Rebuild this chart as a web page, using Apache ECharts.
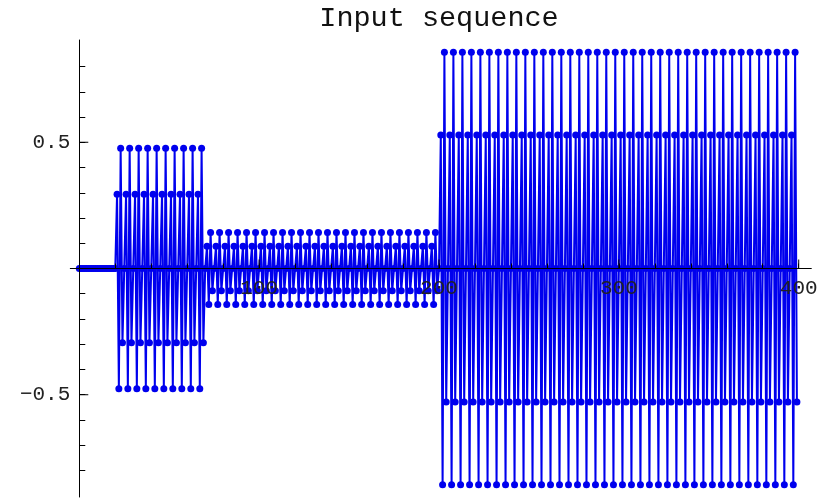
<!DOCTYPE html>
<html>
<head>
<meta charset="utf-8">
<script src="https://cdn.jsdelivr.net/npm/echarts@6/dist/echarts.min.js"></script>
<style>
  html, body { margin: 0; padding: 0; background: #fff; }
  #chart { width: 823px; height: 498px; }
</style>
</head>
<body>
<div id="chart"></div>
<script>
// samples n = 0..19
const leadIn = [0,0,0,0,0,0,0,0,0,0,0,0,0,0,0,0,0,0,0,0];
// samples n = 20..69
const burstA = [
  0,0.294,-0.476,0.476,-0.294, 0,0.294,-0.476,0.476,-0.294,
  0,0.294,-0.476,0.476,-0.294, 0,0.294,-0.476,0.476,-0.294,
  0,0.294,-0.476,0.476,-0.294, 0,0.294,-0.476,0.476,-0.294,
  0,0.294,-0.476,0.476,-0.294, 0,0.294,-0.476,0.476,-0.294,
  0,0.294,-0.476,0.476,-0.294, 0,0.294,-0.476,0.476,-0.294
];
// samples n = 70..199
const burstB = [
  0,0.088,-0.143,0.143,-0.088, 0,0.088,-0.143,0.143,-0.088,
  0,0.088,-0.143,0.143,-0.088, 0,0.088,-0.143,0.143,-0.088,
  0,0.088,-0.143,0.143,-0.088, 0,0.088,-0.143,0.143,-0.088,
  0,0.088,-0.143,0.143,-0.088, 0,0.088,-0.143,0.143,-0.088,
  0,0.088,-0.143,0.143,-0.088, 0,0.088,-0.143,0.143,-0.088,
  0,0.088,-0.143,0.143,-0.088, 0,0.088,-0.143,0.143,-0.088,
  0,0.088,-0.143,0.143,-0.088, 0,0.088,-0.143,0.143,-0.088,
  0,0.088,-0.143,0.143,-0.088, 0,0.088,-0.143,0.143,-0.088,
  0,0.088,-0.143,0.143,-0.088, 0,0.088,-0.143,0.143,-0.088,
  0,0.088,-0.143,0.143,-0.088, 0,0.088,-0.143,0.143,-0.088,
  0,0.088,-0.143,0.143,-0.088, 0,0.088,-0.143,0.143,-0.088,
  0,0.088,-0.143,0.143,-0.088, 0,0.088,-0.143,0.143,-0.088,
  0,0.088,-0.143,0.143,-0.088, 0,0.088,-0.143,0.143,-0.088
];
// samples n = 200..399
const burstC = [
  0,0.529,-0.856,0.856,-0.529, 0,0.529,-0.856,0.856,-0.529,
  0,0.529,-0.856,0.856,-0.529, 0,0.529,-0.856,0.856,-0.529,
  0,0.529,-0.856,0.856,-0.529, 0,0.529,-0.856,0.856,-0.529,
  0,0.529,-0.856,0.856,-0.529, 0,0.529,-0.856,0.856,-0.529,
  0,0.529,-0.856,0.856,-0.529, 0,0.529,-0.856,0.856,-0.529,
  0,0.529,-0.856,0.856,-0.529, 0,0.529,-0.856,0.856,-0.529,
  0,0.529,-0.856,0.856,-0.529, 0,0.529,-0.856,0.856,-0.529,
  0,0.529,-0.856,0.856,-0.529, 0,0.529,-0.856,0.856,-0.529,
  0,0.529,-0.856,0.856,-0.529, 0,0.529,-0.856,0.856,-0.529,
  0,0.529,-0.856,0.856,-0.529, 0,0.529,-0.856,0.856,-0.529,
  0,0.529,-0.856,0.856,-0.529, 0,0.529,-0.856,0.856,-0.529,
  0,0.529,-0.856,0.856,-0.529, 0,0.529,-0.856,0.856,-0.529,
  0,0.529,-0.856,0.856,-0.529, 0,0.529,-0.856,0.856,-0.529,
  0,0.529,-0.856,0.856,-0.529, 0,0.529,-0.856,0.856,-0.529,
  0,0.529,-0.856,0.856,-0.529, 0,0.529,-0.856,0.856,-0.529,
  0,0.529,-0.856,0.856,-0.529, 0,0.529,-0.856,0.856,-0.529,
  0,0.529,-0.856,0.856,-0.529, 0,0.529,-0.856,0.856,-0.529,
  0,0.529,-0.856,0.856,-0.529, 0,0.529,-0.856,0.856,-0.529,
  0,0.529,-0.856,0.856,-0.529, 0,0.529,-0.856,0.856,-0.529,
  0,0.529,-0.856,0.856,-0.529, 0,0.529,-0.856,0.856,-0.529
];

const xMinorTicks = [20,40,60,80,100,120,140,160,180,200,220,240,260,280,300,320,340,360,380,400];
const xMajorTicks = [100,200,300,400];
const yMinorTicks = [-0.8,-0.7,-0.6,-0.5,-0.4,-0.3,-0.2,-0.1,0.1,0.2,0.3,0.4,0.5,0.6,0.7,0.8];
const yMajorTicks = [-0.5,0.5];

const values = leadIn.concat(burstA, burstB, burstC);
const points = values.map((v, i) => [i, v]);

const blue = '#0000ee';
const tickFont = { fontFamily: 'Liberation Mono', fontSize: 21, color: '#222' };

// plot box: the axes cross at (0, 0) inside it
const gridLeft = 70.3, gridRight = 11.7, gridTop = 40, gridBottom = 1;
const xMin = -5, xMax = 407, yMin = -0.905, yMax = 0.905;
const plotW = 823 - gridLeft - gridRight, plotH = 498 - gridTop - gridBottom;
const xAxisOffset = -plotH * (0 - yMin) / (yMax - yMin);
const yAxisOffset = -plotW * (0 - xMin) / (xMax - xMin);

// longer ticks at the labelled values, drawn through the axis scale
function majorTicks(dim, len) {
  return function (params, api) {
    const p = dim === 'x' ? api.coord([api.value(0), 0]) : api.coord([0, api.value(0)]);
    const end = dim === 'x' ? [p[0], p[1] - len] : [p[0] + len, p[1]];
    return {
      type: 'line',
      shape: { x1: p[0], y1: p[1], x2: end[0], y2: end[1] },
      style: { stroke: '#000', lineWidth: 1 }
    };
  };
}

const chart = echarts.init(document.getElementById('chart'));
chart.setOption({
  animation: false,
  backgroundColor: '#fff',
  title: {
    text: 'Input sequence',
    left: 434,
    top: -1,
    textAlign: 'center',
    textStyle: { fontFamily: 'Liberation Mono', fontSize: 28.5, fontWeight: 'normal', color: '#111' }
  },
  grid: { left: gridLeft, right: gridRight, top: gridTop, bottom: gridBottom, outerBoundsMode: 'none' },
  xAxis: {
    type: 'value', min: xMin, max: xMax, zlevel: 1,
    offset: xAxisOffset,
    axisLine: { onZero: false, lineStyle: { color: '#000', width: 1 } },
    axisTick: { inside: true, length: 5, customValues: xMinorTicks, lineStyle: { color: '#000' } },
    axisLabel: { customValues: xMajorTicks, margin: 9, ...tickFont },
    splitLine: { show: false }
  },
  yAxis: {
    type: 'value', min: yMin, max: yMax, zlevel: 1,
    offset: yAxisOffset,
    axisLine: { onZero: false, lineStyle: { color: '#000', width: 1 } },
    axisTick: { inside: true, length: 6, customValues: yMinorTicks, lineStyle: { color: '#000' } },
    axisLabel: {
      customValues: yMajorTicks, margin: 9, ...tickFont,
      formatter: v => String(v).replace('-', '\u2212')
    },
    splitLine: { show: false }
  },
  series: [{
    type: 'line',
    data: points,
    symbol: 'circle',
    symbolSize: 7,
    showAllSymbol: true,
    clip: false,
    lineStyle: { color: blue, width: 2 },
    itemStyle: { color: blue }
  }, {
    type: 'custom',
    data: xMajorTicks,
    zlevel: 1,
    silent: true,
    renderItem: majorTicks('x', 9)
  }, {
    type: 'custom',
    data: yMajorTicks,
    zlevel: 1,
    silent: true,
    renderItem: majorTicks('y', 9)
  }]
});
</script>
</body>
</html>
